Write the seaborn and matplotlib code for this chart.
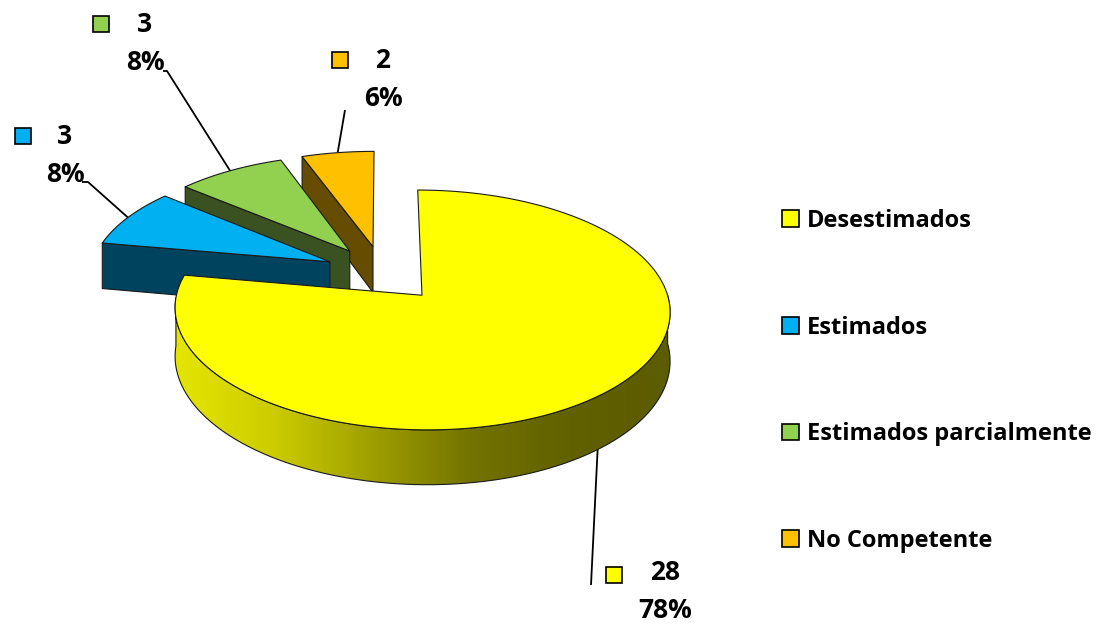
"""
Exploded 3D-style pie chart: Desestimados / Estimados / Estimados parcialmente / No Competente
"""
import numpy as np
import matplotlib
matplotlib.use("Agg")
import matplotlib.pyplot as plt
from matplotlib.patches import Polygon, Patch
from matplotlib.colors import LinearSegmentedColormap
import seaborn as sns

# Data
categories = ["Desestimados", "Estimados", "Estimados parcialmente", "No Competente"]
counts = [28, 3, 3, 2]
top_colors = ["#FFFF00", "#00B0F0", "#92D050", "#FFC000"]
wall_colors = ["#8C8A00", "#00435F", "#3A5222", "#664C00"]

# Label layout (pixels): marker square, value text centre, leader line end
label_square = [(614, 575), (23, 136), (101, 24), (340, 60)]
label_text = [(665, 573), (65, 137), (145, 25), (383, 60)]
label_line_end = [[(591, 585)], [(82, 182), (88, 182)], [(163, 71), (167, 71)], [(345, 110)]]

# Pie geometry (pixels)
CX, CY = 383, 273.4
RX, RY = 240, 112.8
PERSP = 0.12
DEPTH = 47
EXPLODE = 0.247

sns.set_style("white")
plt.rcParams['font.family'] = ['Open Sans', 'DejaVu Sans']
plt.rcParams['text.color'] = 'black'


def proj(u, v, z=0.0):
    s = 1.0 / (1.0 + PERSP * v)
    return CX + RX * u * s, CY - RY * v * s + DEPTH * z * s


def side_cmap(color):
    rgb = np.array(matplotlib.colors.to_rgb(color))
    stops = [0.90, 0.80, 0.62, 0.45, 0.38, 0.36]
    return LinearSegmentedColormap.from_list("side", [tuple(rgb * f) for f in stops])


fig = plt.figure(figsize=(11.02, 6.27), dpi=100)
ax = fig.add_axes([0, 0, 1, 1])
ax.set_xlim(0, 1102)
ax.set_ylim(627, 0)
ax.axis("off")

total = sum(counts)
edges = 90 - 360 * np.concatenate([[0], np.cumsum(counts)]) / total
edge_kw = dict(edgecolor="#1a1a1a", linewidth=0.8, joinstyle="round")

slices = []
for i in range(len(counts)):
    t1, t2 = edges[i], edges[i + 1]
    mid = np.deg2rad((t1 + t2) / 2)
    ou, ov = EXPLODE * np.cos(mid), EXPLODE * np.sin(mid)
    slices.append((i, t1, t2, mid, ou, ov))

# leader lines sit behind the pie
for i, t1, t2, mid, ou, ov in slices:
    ax_, ay_ = proj(ou + np.cos(mid), ov + np.sin(mid))
    pts = [(ax_, ay_)] + label_line_end[i][::-1]
    xs, ys = zip(*pts)
    ax.plot(xs, ys, color="black", lw=1.3, zorder=1, solid_capstyle="butt")

# paint from back to front
order = sorted(slices, key=lambda s: -s[5])
z = 2
for i, t1, t2, mid, ou, ov in order:
    th = np.deg2rad(np.linspace(t1, t2, 200))
    au, av = ou + np.cos(th), ov + np.sin(th)

    # radial walls facing the viewer
    for ang, normal in [(t1, t1 + 90), (t2, t2 - 90)]:
        if np.sin(np.deg2rad(normal)) < 0:
            r = np.deg2rad(ang)
            ru, rv = ou + np.cos(r), ov + np.sin(r)
            wall = [proj(ou, ov), proj(ru, rv), proj(ru, rv, 1), proj(ou, ov, 1)]
            ax.add_patch(Polygon(wall, closed=True, facecolor=wall_colors[i], zorder=z, **edge_kw))
            z += 1

    # outer rim where it faces the viewer
    front = np.sin(th) < 0
    if front.any():
        idx = np.where(front)[0]
        top = [proj(au[k], av[k]) for k in idx]
        bot = [proj(au[k], av[k], 1) for k in idx[::-1]]
        poly = Polygon(top + bot, closed=True, facecolor="none", zorder=z + 1, **edge_kw)
        xs = [p[0] for p in top]
        ys = [p[1] for p in top + bot]
        grad = np.linspace(0, 1, 256).reshape(1, -1)
        im = ax.imshow(grad, cmap=side_cmap(top_colors[i]), aspect="auto",
                       extent=(min(xs), max(xs), max(ys), min(ys)), zorder=z, interpolation="bilinear")
        clip = Polygon(top + bot, closed=True, transform=ax.transData)
        im.set_clip_path(clip)
        ax.add_patch(poly)
        z += 2

    # top face
    face = [proj(ou, ov)] + [proj(au[k], av[k]) for k in range(len(th))]
    ax.add_patch(Polygon(face, closed=True, facecolor=top_colors[i], zorder=z, **edge_kw))
    z += 1

ax.set_xlim(0, 1102)
ax.set_ylim(627, 0)

# data labels
for i in range(len(counts)):
    pct = round(100 * counts[i] / total)
    sx, sy = label_square[i]
    ax.plot([sx], [sy], marker="s", ms=12, mfc=top_colors[i], mec="black", mew=1.2, zorder=50)
    tx, ty = label_text[i]
    ax.text(tx, ty, str(counts[i]), ha="center", va="center", fontsize=19,
            fontweight="bold", color="black", zorder=50)
    ax.text(tx, ty + 38, f"{pct}%", ha="center", va="center", fontsize=19,
            fontweight="bold", color="black", zorder=50)

# legend
handles = [Patch(facecolor=c, edgecolor="black", linewidth=1.2) for c in top_colors]
leg = ax.legend(handles, categories, loc="center left", bbox_to_anchor=(782, 381),
                bbox_transform=ax.transData, frameon=False, borderaxespad=0,
                prop={"weight": "bold", "size": 17}, handlelength=0.72, handleheight=0.72,
                handletextpad=0.34, labelspacing=3.5, borderpad=0)
for t in leg.get_texts():
    t.set_color("black")

fig.savefig("out.png", dpi=100)
